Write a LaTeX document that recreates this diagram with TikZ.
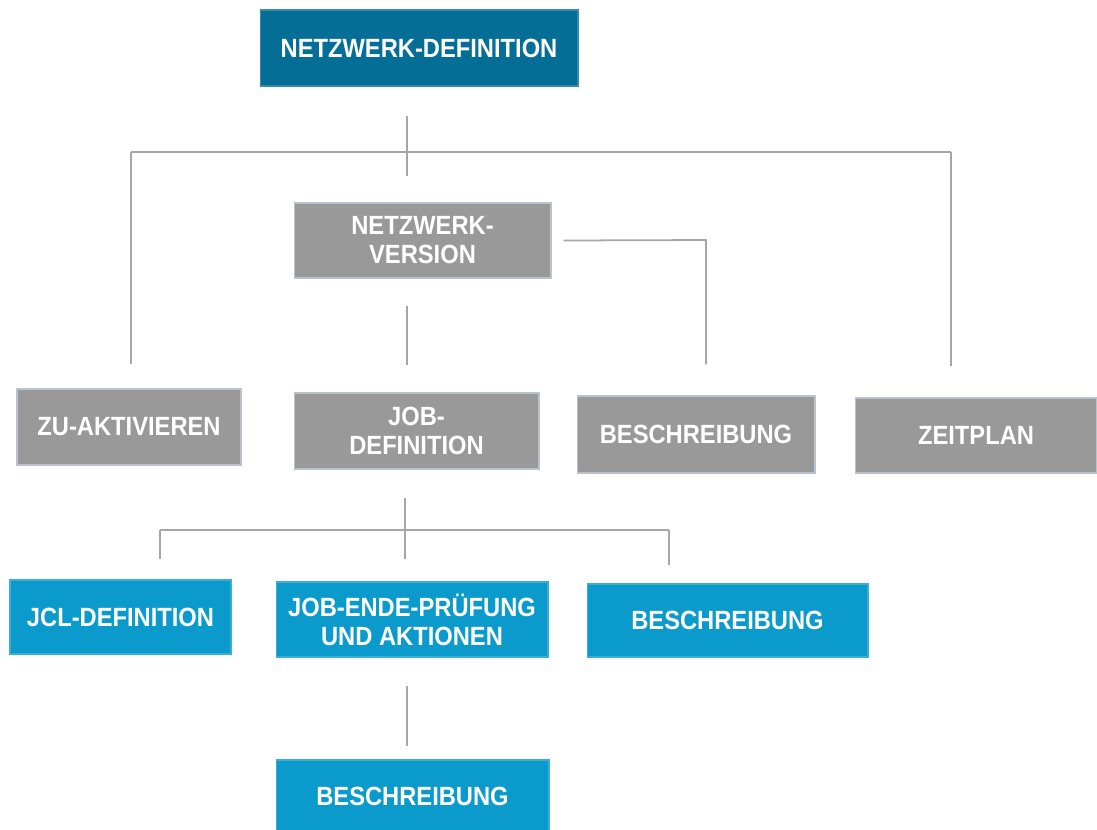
\documentclass[tikz,border=0pt]{standalone}
\usepackage{fontspec}
\setmainfont{Liberation Sans}[FakeStretch=0.9]
\usetikzlibrary{calc}
\definecolor{netblue}{HTML}{046E96}
\definecolor{jobblue}{HTML}{0A9ACB}
\definecolor{boxgray}{HTML}{999999}
\definecolor{edgegray}{HTML}{B9C3CE}
\definecolor{linegray}{HTML}{A6A6A6}
\tikzset{
  box/.style={rectangle, text=white, align=center, inner sep=0pt,
    font=\bfseries\fontsize{15}{16.5}\selectfont},
  graybox/.style={box, fill=boxgray, draw=edgegray, line width=0.6pt},
  bluebox/.style={box, fill=jobblue, draw=jobblue!80!white, line width=0.6pt},
  conn/.style={draw=linegray, line width=1pt}
}
\begin{document}
\begin{tikzpicture}[x=0.02cm, y=-0.02cm]
  \useasboundingbox (0,0) rectangle (1097,829);
  \fill[white] (0,0) rectangle (1097,829);

  \node[box, fill=netblue, draw=netblue!80!white, line width=0.6pt,
    minimum width=6.36cm, minimum height=1.52cm] (netdef) at (419,48) {NETZWERK-DEFINITION};
  \node[graybox, minimum width=5.14cm, minimum height=1.5cm] (netver) at (422.5,240.5) {NETZWERK-\\VERSION};

  \node[graybox, minimum width=4.48cm, minimum height=1.52cm] (zuakt) at (129,427) {ZU-AKTIVIEREN};
  \node[graybox, minimum width=4.9cm, minimum height=1.52cm] (jobdef) at (416.5,431) {JOB-\\DEFINITION};
  \node[graybox, minimum width=4.76cm, minimum height=1.54cm] (beschr) at (696,434.5) {BESCHREIBUNG};
  \node[graybox, minimum width=4.84cm, minimum height=1.5cm] (zeit) at (976,435.5) {ZEITPLAN};

  \node[bluebox, minimum width=4.42cm, minimum height=1.48cm] (jcl) at (120.5,617) {JCL-DEFINITION};
  \node[bluebox, minimum width=5.44cm, minimum height=1.5cm] (jobende) at (412,619.5) {JOB-ENDE-PRÜFUNG\\UND AKTIONEN};
  \node[bluebox, minimum width=5.62cm, minimum height=1.46cm] (jobbeschr) at (727.5,620.5) {BESCHREIBUNG};
  \node[bluebox, minimum width=5.46cm, minimum height=1.44cm] (endbeschr) at (412.5,796) {BESCHREIBUNG};

  % verteiler
  \coordinate (hub) at (407,152);
  \coordinate (hubl) at (131,152);
  \coordinate (hubr) at (951,152);
  \coordinate (verbend) at (706,240);
  \coordinate (jhub) at (405,530);
  \coordinate (jhubl) at (160,530);
  \coordinate (jhubr) at (669,530);

  \draw[conn] ([yshift=-0.58cm]netdef.south -| hub) -- ([yshift=0.52cm]netver.north -| hub);
  \draw[conn] (hubl) -- (hubr);
  \draw[conn] (hubl) -- ([yshift=0.48cm]zuakt.north -| hubl);
  \draw[conn] (hubr) -- ([yshift=0.62cm]zeit.north -| hubr);
  \draw[conn] ([xshift=0.24cm]netver.east) -- (verbend) -- ([yshift=0.62cm]beschr.north -| verbend);
  \draw[conn] ([yshift=-0.54cm]netver.south -| hub) -- ([yshift=0.54cm]jobdef.north -| hub);

  \draw[conn] ([yshift=-0.56cm]jobdef.south -| jhub) -- ([yshift=0.44cm]jobende.north -| jhub);
  \draw[conn] (jhubl) -- (jhubr);
  \draw[conn] (jhubl) -- ([yshift=0.4cm]jcl.north -| jhubl);
  \draw[conn] (jhubr) -- ([yshift=0.36cm]jobbeschr.north -| jhubr);
  \draw[conn] ([yshift=-0.56cm]jobende.south -| hub) -- ([yshift=0.28cm]endbeschr.north -| hub);
\end{tikzpicture}
\end{document}
